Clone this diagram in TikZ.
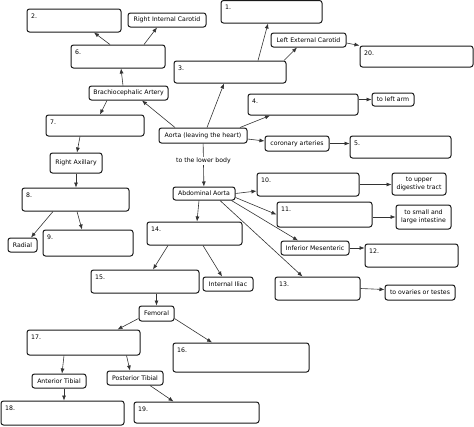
\documentclass[tikz,border=0pt]{standalone}
\usepackage{fontspec}
\newfontfamily\mapfont{DejaVu Sans}
\usetikzlibrary{arrows.meta}

\begin{document}
\begin{tikzpicture}[x=1pt, y=-1pt,
    box/.style={draw=black!90, line width=1pt, rounded corners=2.5pt, inner sep=1pt,
      font=\mapfont\fontsize{6.2}{7.5}\selectfont, align=center},
    blank/.style 2 args={box, minimum width=#1pt, minimum height=#2pt},
    numtext/.style={anchor=north west, inner sep=0pt, xshift=4.5pt, yshift=-5pt,
      font=\mapfont\fontsize{6.2}{7.5}\selectfont},
    num/.style={label={[numtext]north west:#1}},
    arr/.style={-{Latex[length=5pt, width=4pt]}, line width=0.6pt, draw=black!80}]
  \useasboundingbox (0,0) rectangle (474,426);

  % upper part
  \node[blank={101}{22.5}, num=1.] (b1) at (271.5,11.75) {};
  \node[blank={94}{23}, num=2.] (b2) at (74,20.5) {};
  \node[blank={78}{14}] (ric) at (167,20) {Right Internal Carotid};
  \node[blank={94}{23}, num=6.] (b6) at (118,56.5) {};
  \node[blank={75}{14}] (lec) at (308.5,40) {Left External Carotid};
  \node[blank={113}{21}, num=20.] (b20) at (416.5,56.5) {};
  \node[blank={112}{22}, num=3.] (b3) at (230,72) {};
  \node[blank={79}{14}] (brach) at (128.5,93) {Brachiocephalic Artery};
  \node[blank={110}{21}, num=4.] (b4) at (303,104.5) {};
  \node[blank={42}{13}] (arm) at (393,99.5) {to left arm};
  \node[blank={98}{21}, num=7.] (b7) at (95,125.5) {};
  \node[blank={88}{15}] (aorta) at (203,135.5) {Aorta (leaving the heart)};
  \node[blank={64}{15}] (cor) at (297,143.5) {coronary arteries};
  \node[blank={101}{22}, num=5.] (b5) at (400.5,147) {};

  % arm
  \node[blank={52}{20}] (axil) at (76,163) {Right Axillary};
  \node[blank={107}{23}, num=8.] (b8) at (75.5,199.5) {};
  \node[blank={29}{14}] (radial) at (22.5,245) {Radial};
  \node[blank={90}{26}, num=9.] (b9) at (88,243) {};

  % abdomen
  \node[blank={62}{13}] (abd) at (204,193.5) {Abdominal Aorta};
  \node[blank={102}{23}, num=10.] (b10) at (308,184.5) {};
  \node[blank={54}{22}] (upper) at (419,184) {to upper\\digestive tract};
  \node[blank={95}{25}, num=11.] (b11) at (324.5,214.5) {};
  \node[blank={55}{24}] (small) at (423.5,217) {to small and\\large intestine};
  \node[blank={95}{23}, num=14.] (b14) at (194.5,233.5) {};
  \node[blank={68}{14}] (inf) at (315,248) {Inferior Mesenteric};
  \node[blank={93}{23}, num=12.] (b12) at (411.5,255.5) {};
  \node[blank={108}{23}, num=15.] (b15) at (145,281.5) {};
  \node[blank={50}{14}] (iliac) at (228,284) {Internal Iliac};
  \node[blank={85}{23}, num=13.] (b13) at (317.5,288.5) {};
  \node[blank={70}{15}] (ovar) at (420,292.5) {to ovaries or testes};

  % leg
  \node[blank={35}{15}] (fem) at (156.5,313.5) {Femoral};
  \node[blank={113}{25}, num=17.] (b17) at (83.5,342.5) {};
  \node[blank={136}{29}, num=16.] (b16) at (241,357.5) {};
  \node[blank={56}{14}] (post) at (135,378) {Posterior Tibial};
  \node[blank={54}{14}] (ant) at (59,381) {Anterior Tibial};
  \node[blank={123}{24}, num=18.] (b18) at (62.5,413) {};
  \node[blank={125}{21}, num=19.] (b19) at (196.5,412.5) {};

  % connectors
  \draw[arr] ([xshift=-8pt]b6.north) -- ([xshift=20pt]b2.south);
  \draw[arr] ([xshift=26pt]b6.north) -- ([xshift=-10pt]ric.south);
  \draw[arr] ([xshift=-5.5pt]brach.north) -- ([xshift=3pt]b6.south);
  \draw[arr] ([xshift=-21.5pt]brach.south) -- ([xshift=5pt]b7.north);
  \draw[arr] ([xshift=-28pt]aorta.north) -- ([xshift=13.5pt]brach.south);
  \draw[arr] ([xshift=4pt]aorta.north) -- ([xshift=-6pt]b3.south);
  \draw[arr] ([xshift=28pt]b3.north) -- ([xshift=-3.5pt]b1.south);
  \draw[arr] ([xshift=54pt]b3.north) -- ([xshift=-11.5pt]lec.south);
  \draw[arr] ([yshift=-3pt]lec.east) -- (b20.north west);
  \draw[arr] ([xshift=37pt]aorta.north) -- ([xshift=-33pt]b4.south);
  \draw[arr] (b4.east |- arm) -- (arm);
  \draw[arr] ([yshift=-3.5pt]aorta.east) -- ([yshift=2.5pt]cor.west);
  \draw[arr] (cor.east) -- (cor.east -| b5.west);
  \draw[arr] (aorta) -- node[pos=0.4, fill=white, inner sep=1pt,
      font=\mapfont\fontsize{6.2}{7.5}\selectfont] (lower) {to the lower body} (abd);

  \draw[arr] ([xshift=-15pt]b7.south) -- ([xshift=1pt]axil.north);
  \draw[arr] (axil) -- (axil |- b8.north);
  \draw[arr] ([xshift=-22.5pt]b8.south) -- ([xshift=8.5pt]radial.north);
  \draw[arr] ([xshift=1.5pt]b8.south) -- ([xshift=-6pt]b9.north);

  \draw[arr] (abd.east) -- ([yshift=-6.5pt]b10.west);
  \draw[arr] ([yshift=-4pt]abd.east) -- (b11.west);
  \draw[arr] ([xshift=-4pt]abd.south east) -- ([xshift=-17pt]inf.north);
  \draw[arr] ([xshift=16pt]abd.south) -- ([xshift=-15pt]b13.north);
  \draw[arr] ([xshift=-5pt]abd.south) -- ([xshift=2.5pt]b14.north);
  \draw[arr] (b10.east) -- (b10.east -| upper.west);
  \draw[arr] (small.west -| b11.east) -- (small.west);
  \draw[arr] (inf.east) -- (inf.east -| b12.west);
  \draw[arr] (b13.east) -- ([yshift=3pt]ovar.west);
  \draw[arr] ([xshift=-26.5pt]b14.south) -- ([xshift=8pt]b15.north);
  \draw[arr] ([xshift=8.5pt]b14.south) -- ([xshift=-6pt]iliac.north);

  \draw[arr] (fem.north |- b15.south) -- (fem.north);
  \draw[arr] ([yshift=-5pt]fem.west) -- ([xshift=34pt]b17.north);
  \draw[arr] ([yshift=-5pt]fem.east) -- ([xshift=-29pt]b16.north);
  \draw[arr] ([xshift=-19.5pt]b17.south) -- ([xshift=3pt]ant.north);
  \draw[arr] ([xshift=43pt]b17.south) -- ([xshift=-5pt]post.north);
  \draw[arr] ([xshift=5pt]ant.south) -- ([xshift=1.5pt]b18.north);
  \draw[arr] ([xshift=15pt]post.south) -- ([xshift=-23pt]b19.north);
\end{tikzpicture}
\end{document}
